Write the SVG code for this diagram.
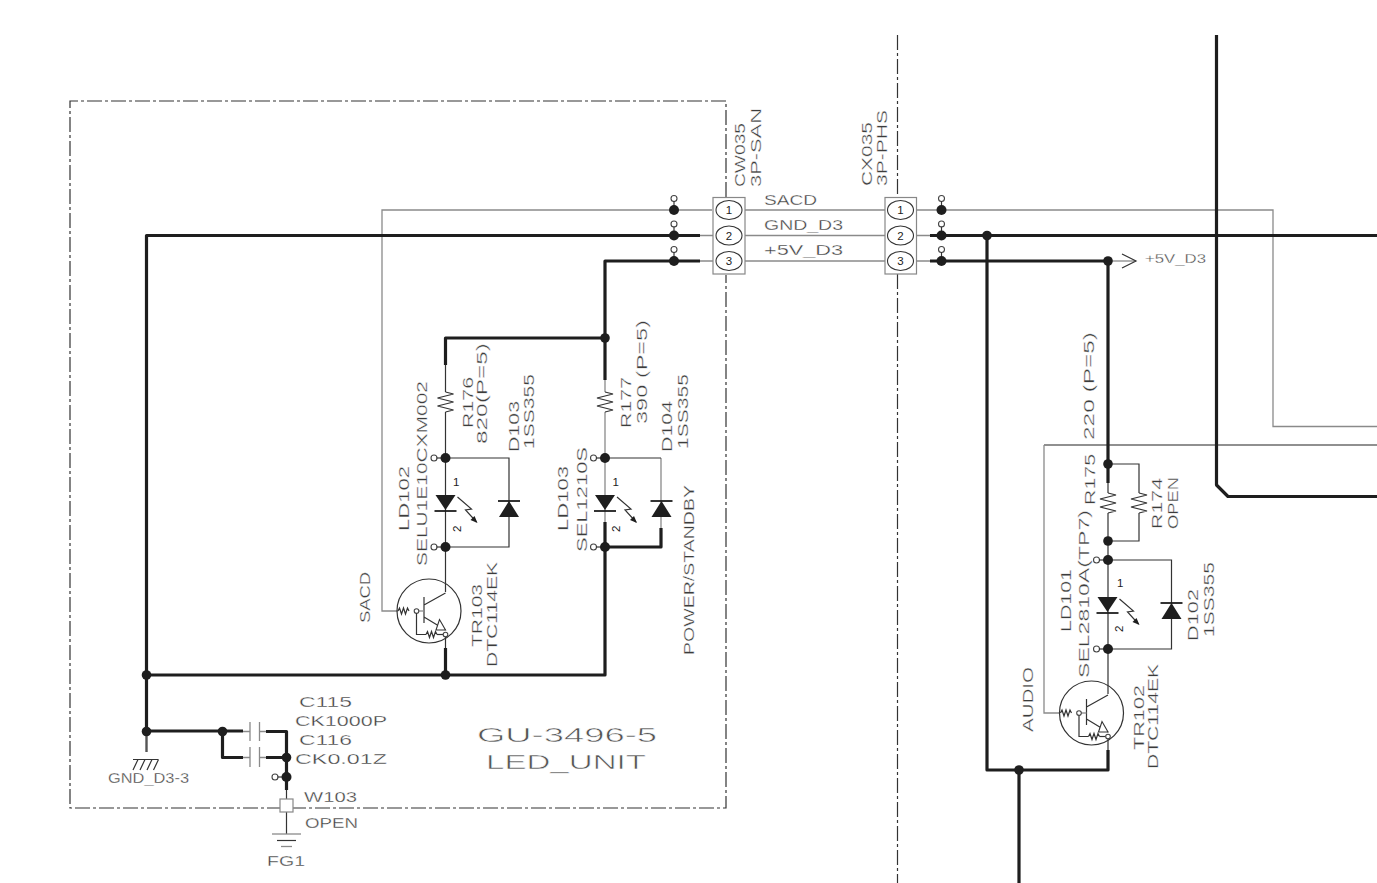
<svg xmlns="http://www.w3.org/2000/svg" xmlns:xlink="http://www.w3.org/1999/xlink" width="1377" height="883" viewBox="0 0 1377 883">
<style>
text{font-family:"Liberation Sans",Arial,sans-serif;font-size:14.500px;fill:#3c3c3c;stroke:#fff;stroke-width:.3px}
.big{font-size:20px;fill:#555;stroke-width:.5px}
.sm{font-size:11.500px;fill:#222;stroke:none}
.k{fill:none;stroke:#1e1e1e;stroke-width:3.200;stroke-linejoin:round}
.g{fill:none;stroke:#8a8a8a;stroke-width:1.300}
.d{fill:none;stroke:#333;stroke-width:1.200}
.bk{fill:none;stroke:#222;stroke-width:1.200}
.dash{fill:none;stroke:#333;stroke-width:1.200;stroke-dasharray:15 3 3 3}
.dot{fill:#1e1e1e}
.o{fill:#fff;stroke:#444;stroke-width:1.100}
.bx{fill:#fff;stroke:#888;stroke-width:1.200}
.p{fill:#fff;stroke:#333;stroke-width:1.100}
.f{fill:#1e1e1e}
</style>
<defs>
<path id="rv" class="d" d="M0,0 L8,2 L-8,6 L8,10 L-8,14 L8,18 L0,20"/>
<path id="rh" class="d" d="M0,0 L1.500,-3 L3.500,3 L5.500,-3 L7.500,3 L9.500,-3 L11,0"/>
<g id="led">
<path class="f" d="M-10,0 H10 L0,15 Z"/>
<path d="M-11,16 H11" class="k" style="stroke-width:1.800"/>
<path class="d" d="M12,2 L26,14 L20,15 L31,27"/>
<path class="f" d="M32,28 L25,25 L29,21 Z"/>
</g>
<g id="dio">
<path class="f" d="M0,0 L10,16 H-10 Z"/>
<path d="M-11,0 H11" class="k" style="stroke-width:1.800"/>
</g>
<g id="tr">
<circle class="d" r="32"/>
<path class="d" d="M-5,-14 V12 M-5,-6 L16.500,-18 M-5,6 L16.500,19"/>
<path class="p" d="M16.500,19 L7,19 L10.500,8.500 Z"/>
<path class="g" d="M-12,0 H-5"/>
<circle class="o" cx="-12.500" r="2.300"/>
<path class="d" d="M-12.500,2 V23.500 H-3"/>
<use xlink:href="#rh" x="-31" y="0"/>
<use xlink:href="#rh" x="-3" y="23.500"/>
<path class="d" d="M8,23.500 H14"/>
<circle class="o" cx="16.500" cy="23.500" r="2.300"/>
</g>
<g id="tap"><circle class="o" cy="-11.500" r="3"/><path class="d" d="M0,-9 V0"/><circle class="dot" r="5"/></g>
</defs>

<g id="borders">
<path class="dash" d="M726,197 V101 H70 V808 H726 V275"/>
<path class="dash" d="M897.500,35 V197"/>
<path class="dash" d="M897.500,274 V883"/>
</g>

<g id="connectors">
<path class="g" d="M712,210 H382 V611 H398"/>
<path class="g" d="M745,210 H885 M745,235.500 H885 M745,261 H885"/>
<path class="g" d="M916,210 H1273 V426.500 H1377"/>
<path class="g" d="M700,235.500 H713 M700,261 H713 M916,235.500 H930 M916,261 H930"/>
<path class="k" d="M700,235.500 H146.500 V731 M930,235.500 H1377"/>
<path class="k" d="M700,261 H605 V380 M605,338 H445.500 V365 M930,261 H1108 V483"/>
<path class="g" d="M1108,261 H1136"/><path class="d" d="M1122,254 L1136,261 L1122,268"/>
<path class="k" d="M146.500,675 H605 V522 M605,547 H661 V528 M445.500,648 V675"/>
<path class="k" d="M1216.500,35 V485 L1228,496.500 H1377"/>
<path class="k" d="M987,235.500 V770 H1108 V750 M1019,770 V883"/>
<path class="bk" d="M1377,445 H1044"/>
<path class="g" d="M1044,445 V713 H1060"/>
<path class="d" d="M445.500,365 V392 M445.500,412 V547 M445.500,547 V592 M445.500,458 H509 V547 H445.500 M445.500,635 V648"/>
<path class="g" d="M605,380 V392 M605,412 V522 M661,458 V528"/>
<path class="d" d="M605,458 H661"/>
<path class="d" d="M1108,483 V493 M1108,513 V694 M1108,464 H1139 V493 M1139,513 V541 H1108 M1108,560 H1171.500 V649 H1108 M1108,736 V750"/>
<path class="k" d="M146.500,731 H243 M222.500,731 V757.500 H243 M266,731.500 H286.500 V790 M266,757.500 H286.500"/>
<path class="k" style="stroke:#555;stroke-width:2.400" d="M146.500,731 V752"/>
<path class="g" d="M243,731.500 H250 M243,757.500 H250 M259.500,731.500 H266 M259.500,757.500 H266"/>
<path class="d" d="M286.500,790 V799 M286.500,812 V834"/>
</g>

<g id="dots">
<use xlink:href="#tap" x="674" y="210"/><use xlink:href="#tap" x="674" y="235.500"/><use xlink:href="#tap" x="674" y="261"/>
<use xlink:href="#tap" x="941.500" y="210"/><use xlink:href="#tap" x="941.500" y="235.500"/><use xlink:href="#tap" x="941.500" y="261"/>
<circle class="dot" cx="987" cy="235.500" r="4.800"/>
<circle class="dot" cx="1108" cy="261" r="4.800"/>
<circle class="dot" cx="605" cy="338" r="4.800"/>
<circle class="dot" cx="146.500" cy="675" r="4.800"/>
<circle class="dot" cx="445.500" cy="675" r="4.800"/>
<circle class="dot" cx="1019" cy="770" r="4.800"/>
</g>

<g id="CW035">
<rect class="bx" x="713" y="197.500" width="32" height="76.500"/>
<ellipse class="p" cx="729" cy="210" rx="13" ry="9.500"/><ellipse class="p" cx="729" cy="235.500" rx="13" ry="9.500"/><ellipse class="p" cx="729" cy="261" rx="13" ry="9.500"/>
<text class="sm" x="729" y="214" text-anchor="middle">1</text><text class="sm" x="729" y="239.500" text-anchor="middle">2</text><text class="sm" x="729" y="265" text-anchor="middle">3</text>
<text transform="translate(745,187) rotate(-90)" textLength="64" lengthAdjust="spacingAndGlyphs">CW035</text>
<text transform="translate(760.500,187) rotate(-90)" textLength="79" lengthAdjust="spacingAndGlyphs">3P-SAN</text>
</g>
<g id="CX035">
<rect class="bx" x="885" y="197.500" width="31.500" height="76.500"/>
<ellipse class="p" cx="900.500" cy="210" rx="13" ry="9.500"/><ellipse class="p" cx="900.500" cy="235.500" rx="13" ry="9.500"/><ellipse class="p" cx="900.500" cy="261" rx="13" ry="9.500"/>
<text class="sm" x="900.500" y="214" text-anchor="middle">1</text><text class="sm" x="900.500" y="239.500" text-anchor="middle">2</text><text class="sm" x="900.500" y="265" text-anchor="middle">3</text>
<text transform="translate(872,186) rotate(-90)" textLength="64" lengthAdjust="spacingAndGlyphs">CX035</text>
<text transform="translate(887,186) rotate(-90)" textLength="76" lengthAdjust="spacingAndGlyphs">3P-PHS</text>
</g>
<g id="wire-labels">
<text x="764" y="204.500" textLength="53" lengthAdjust="spacingAndGlyphs">SACD</text>
<text x="764" y="229.500" textLength="79" lengthAdjust="spacingAndGlyphs">GND_D3</text>
<text x="764" y="255" textLength="79" lengthAdjust="spacingAndGlyphs">+5V_D3</text>
<text x="1145" y="263" textLength="61" lengthAdjust="spacingAndGlyphs" style="font-size:12px">+5V_D3</text>
</g>

<g id="R176"><use xlink:href="#rv" x="445.500" y="392"/>
<text transform="translate(472.500,428) rotate(-90)" textLength="51" lengthAdjust="spacingAndGlyphs">R176</text>
<text transform="translate(487,444) rotate(-90)" textLength="101" lengthAdjust="spacingAndGlyphs">820(P=5)</text></g>
<g id="LD102">
<use xlink:href="#tap" transform="translate(445.500,458) rotate(-90)"/>
<use xlink:href="#tap" transform="translate(445.500,547) rotate(-90)"/>
<use xlink:href="#led" x="445.500" y="495"/>
<text class="sm" x="453" y="485.500">1</text>
<text class="sm" transform="translate(461,532) rotate(-90)">2</text>
<text transform="translate(408.500,531) rotate(-90)" textLength="65" lengthAdjust="spacingAndGlyphs">LD102</text>
<text transform="translate(427,566) rotate(-90)" textLength="185" lengthAdjust="spacingAndGlyphs">SELU1E10CXM002</text></g>
<g id="D103"><use xlink:href="#dio" x="509" y="501"/>
<text transform="translate(518.500,452) rotate(-90)" textLength="51" lengthAdjust="spacingAndGlyphs">D103</text>
<text transform="translate(534,449) rotate(-90)" textLength="75" lengthAdjust="spacingAndGlyphs">1SS355</text></g>
<g id="TR103"><use xlink:href="#tr" x="429" y="611"/>
<text transform="translate(370,623) rotate(-90)" textLength="51" lengthAdjust="spacingAndGlyphs">SACD</text>
<text transform="translate(482,647) rotate(-90)" textLength="63" lengthAdjust="spacingAndGlyphs">TR103</text>
<text transform="translate(497,667) rotate(-90)" textLength="105" lengthAdjust="spacingAndGlyphs">DTC114EK</text></g>

<g id="R177"><use xlink:href="#rv" x="605" y="392"/>
<text transform="translate(630.500,428) rotate(-90)" textLength="51" lengthAdjust="spacingAndGlyphs">R177</text>
<text transform="translate(647,424) rotate(-90)" textLength="104" lengthAdjust="spacingAndGlyphs">390 (P=5)</text></g>
<g id="LD103">
<use xlink:href="#tap" transform="translate(605,458) rotate(-90)"/>
<use xlink:href="#tap" transform="translate(605,547) rotate(-90)"/>
<use xlink:href="#led" x="605" y="495"/>
<text class="sm" x="612.500" y="485.500">1</text>
<text class="sm" transform="translate(620,532) rotate(-90)">2</text>
<text transform="translate(567.500,531) rotate(-90)" textLength="65" lengthAdjust="spacingAndGlyphs">LD103</text>
<text transform="translate(587,552) rotate(-90)" textLength="105" lengthAdjust="spacingAndGlyphs">SEL1210S</text></g>
<g id="D104"><use xlink:href="#dio" x="661.500" y="501"/>
<text transform="translate(672,452) rotate(-90)" textLength="51" lengthAdjust="spacingAndGlyphs">D104</text>
<text transform="translate(688,449) rotate(-90)" textLength="75" lengthAdjust="spacingAndGlyphs">1SS355</text>
<text transform="translate(694,655) rotate(-90)" textLength="170" lengthAdjust="spacingAndGlyphs">POWER/STANDBY</text></g>

<g id="C115-C116">
<circle class="dot" cx="146.500" cy="731.500" r="4.800"/>
<circle class="dot" cx="222.500" cy="731.500" r="4.800"/>
<circle class="dot" cx="286.500" cy="757.500" r="4.800"/>
<use xlink:href="#tap" transform="translate(286.500,777) rotate(-90)"/>
<path class="g" d="M250,722 V741 M259.500,722 V741 M250,747 V767 M259.500,747 V767"/>
<text x="299" y="707" textLength="53" lengthAdjust="spacingAndGlyphs">C115</text>
<text x="295" y="726" textLength="92" lengthAdjust="spacingAndGlyphs">CK1000P</text>
<text x="299" y="745" textLength="53" lengthAdjust="spacingAndGlyphs">C116</text>
<text x="295" y="764" textLength="92" lengthAdjust="spacingAndGlyphs">CK0.01Z</text>
</g>
<g id="GND_D3-3">
<path class="d" d="M133,759.500 H158.500 M138,759.500 L133,770 M145,759.500 L140,770 M152,759.500 L147,770 M158.500,759.500 L153.500,770"/>
<text x="108" y="783" textLength="81" lengthAdjust="spacingAndGlyphs">GND_D3-3</text>
</g>
<g id="W103">
<rect class="bx" x="280" y="799" width="13" height="13"/>
<text x="304" y="802" textLength="53" lengthAdjust="spacingAndGlyphs">W103</text>
<text x="305" y="828" textLength="53" lengthAdjust="spacingAndGlyphs">OPEN</text>
</g>
<g id="FG1">
<path class="g" d="M272,834 H301"/><path class="d" d="M277,840.500 H296"/><path class="g" d="M281,846.500 H292"/>
<text x="267" y="866" textLength="38" lengthAdjust="spacingAndGlyphs">FG1</text>
</g>
<g id="unit-label">
<text class="big" x="477" y="742" textLength="180" lengthAdjust="spacingAndGlyphs">GU-3496-5</text>
<text class="big" x="486" y="769" textLength="160" lengthAdjust="spacingAndGlyphs">LED_UNIT</text>
</g>

<g id="R175"><circle class="dot" cx="1108" cy="464" r="4.800"/><use xlink:href="#rv" x="1108" y="493"/><circle class="dot" cx="1108" cy="541" r="4.800"/>
<text transform="translate(1094,440) rotate(-90)" textLength="108" lengthAdjust="spacingAndGlyphs">220 (P=5)</text>
<text transform="translate(1095,505) rotate(-90)" textLength="51" lengthAdjust="spacingAndGlyphs">R175</text></g>
<g id="R174"><use xlink:href="#rv" x="1139" y="493"/>
<text transform="translate(1162,529) rotate(-90)" textLength="51" lengthAdjust="spacingAndGlyphs">R174</text>
<text transform="translate(1178,529) rotate(-90)" textLength="52" lengthAdjust="spacingAndGlyphs">OPEN</text></g>
<g id="LD101">
<use xlink:href="#tap" transform="translate(1108,560) rotate(-90)"/>
<use xlink:href="#tap" transform="translate(1108,649) rotate(-90)"/>
<use xlink:href="#led" x="1107.500" y="597"/>
<text class="sm" x="1117" y="587">1</text>
<text class="sm" transform="translate(1123,632) rotate(-90)">2</text>
<text transform="translate(1071,632) rotate(-90)" textLength="63" lengthAdjust="spacingAndGlyphs">LD101</text>
<text transform="translate(1089,678) rotate(-90)" textLength="168" lengthAdjust="spacingAndGlyphs">SEL2810A(TP7)</text></g>
<g id="D102"><use xlink:href="#dio" x="1171.500" y="603"/>
<text transform="translate(1198,641) rotate(-90)" textLength="52" lengthAdjust="spacingAndGlyphs">D102</text>
<text transform="translate(1214,637) rotate(-90)" textLength="75" lengthAdjust="spacingAndGlyphs">1SS355</text></g>
<g id="TR102"><use xlink:href="#tr" x="1091.500" y="713"/>
<text transform="translate(1033,732) rotate(-90)" textLength="65" lengthAdjust="spacingAndGlyphs">AUDIO</text>
<text transform="translate(1144,750) rotate(-90)" textLength="65" lengthAdjust="spacingAndGlyphs">TR102</text>
<text transform="translate(1158,769) rotate(-90)" textLength="105" lengthAdjust="spacingAndGlyphs">DTC114EK</text></g>
</svg>
